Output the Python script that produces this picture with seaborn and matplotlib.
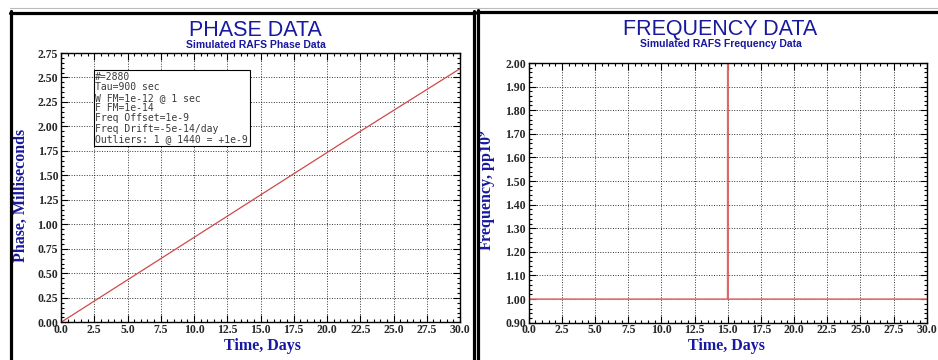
import numpy as np
import pandas as pd
import seaborn as sns
import matplotlib.pyplot as plt
from matplotlib.lines import Line2D
from matplotlib.ticker import MultipleLocator, FormatStrFormatter

# values
phase_days = [0.0, 7.5, 15.0, 22.5, 30.0]
phase_ms = [0.0, 0.65, 1.30, 1.95, 2.59]

freq_days = [0.0, 14.99, 15.0, 15.01, 30.0]
freq_pp1e9 = [1.0, 1.0, 2.3, 1.0, 1.0]

x_ticks = [0, 2.5, 5, 7.5, 10, 12.5, 15, 17.5, 20, 22.5, 25, 27.5, 30]

info_lines = [
    "#=2880",
    "Tau=900 sec",
    "W FM=1e-12 @ 1 sec",
    "F FM=1e-14",
    "Freq Offset=1e-9",
    "Freq Drift=-5e-14/day",
    "Outliers: 1 @ 1440 = +1e-9",
]

sns.set_style("ticks")
plt.rcParams["mathtext.fontset"] = "stix"

W, H = 938, 360
fig = plt.figure(figsize=(W / 100, H / 100), dpi=100)
fig.patch.set_facecolor("white")


def fx(x):
    return x / W


def fy(y):
    return 1 - y / H


ax1 = fig.add_axes([fx(61), fy(322.3), (460 - 61) / W, (322.3 - 53) / H])
ax2 = fig.add_axes([fx(528.7), fy(322.7), (926.7 - 528.7) / W, (322.7 - 63) / H])

navy = "#1818a0"
tick_font = dict(family="Liberation Serif", weight="bold", size=8.5)
label_font = dict(family="Liberation Serif", weight="bold", size=11.5, color=navy)

df_phase = pd.DataFrame({"days": phase_days, "phase": phase_ms})
df_freq = pd.DataFrame({"days": freq_days, "freq": freq_pp1e9})

sns.lineplot(data=df_phase, x="days", y="phase", ax=ax1, color="#d04848",
             linewidth=0.9, estimator=None, sort=False)
sns.lineplot(data=df_freq, x="days", y="freq", ax=ax2, color="#e06565",
             linewidth=1.1, estimator=None, sort=False)

ax1.set_ylim(0, 2.75)
ax2.set_ylim(0.9, 2.0)
ax1.yaxis.set_major_locator(MultipleLocator(0.25))
ax1.yaxis.set_minor_locator(MultipleLocator(0.05))
ax2.yaxis.set_major_locator(MultipleLocator(0.1))
ax2.yaxis.set_minor_locator(MultipleLocator(0.02))

for ax in (ax1, ax2):
    ax.set_xlim(0, 30)
    ax.set_xticks(x_ticks)
    ax.xaxis.set_minor_locator(MultipleLocator(0.5))
    ax.xaxis.set_major_formatter(FormatStrFormatter("%.1f"))
    ax.yaxis.set_major_formatter(FormatStrFormatter("%.2f"))
    ax.tick_params(which="both", direction="in", top=True, right=True,
                   color="black", width=0.8, pad=2)
    ax.tick_params(axis="x", which="major", pad=1)
    ax.tick_params(which="major", length=5)
    ax.tick_params(which="minor", length=2.5)
    for lab in ax.get_xticklabels() + ax.get_yticklabels():
        lab.set_fontfamily(tick_font["family"])
        lab.set_fontweight(tick_font["weight"])
        lab.set_fontsize(tick_font["size"])
    ax.grid(True, which="major", color="black", linestyle=(0, (1, 1.6)),
            linewidth=0.7, alpha=0.8)
    for sp in ax.spines.values():
        sp.set_color("black")
        sp.set_linewidth(1.0)
    ax.set_xlabel("Time, Days", **label_font)

ax1.set_ylabel("Phase, Milliseconds", **label_font)
ax2.set_ylabel(r"Frequency, pp10$^{\mathbf{9}}$", **label_font)
ax1.xaxis.set_label_coords(0.505, -0.058, transform=ax1.transAxes)
ax1.xaxis.label.set_verticalalignment("top")
ax2.xaxis.set_label_coords(0.497, -0.058, transform=ax2.transAxes)
ax2.xaxis.label.set_verticalalignment("top")
ax1.yaxis.set_label_coords(fx(29), fy(195), transform=fig.transFigure)
ax2.yaxis.set_label_coords(fx(498), fy(190), transform=fig.transFigure)

# info box
ax1.text(0.086, 0.93, "\n".join(info_lines), transform=ax1.transAxes,
         ha="left", va="top", fontsize=7.0, color="#3a3a3a",
         family="DejaVu Sans Mono", linespacing=1.05,
         bbox=dict(boxstyle="square,pad=0.15", fc="white", ec="black", lw=0.8))

# titles
fig.text(fx(255), fy(30), "PHASE DATA", ha="center", va="center",
         family="Liberation Sans", fontsize=15.5, color=navy)
fig.text(fx(256), fy(45), "Simulated RAFS Phase Data", ha="center", va="center",
         family="Liberation Sans", weight="bold", fontsize=7.5, color=navy)
fig.text(fx(720), fy(29), "FREQUENCY DATA", ha="center", va="center",
         family="Liberation Sans", fontsize=15.5, color=navy)
fig.text(fx(721), fy(44), "Simulated RAFS Frequency Data", ha="center", va="center",
         family="Liberation Sans", weight="bold", fontsize=7.5, color=navy)

# panel frames
frame = dict(color="black", linewidth=2.3, transform=fig.transFigure)
fig.add_artist(Line2D([fx(11), fx(11)], [fy(11), fy(362)], **frame))
fig.add_artist(Line2D([fx(10), fx(474.5)], [fy(12.5), fy(12.5)], **frame))
fig.add_artist(Line2D([fx(474), fx(474)], [fy(11), fy(362)], **frame))
fig.add_artist(Line2D([fx(478), fx(478)], [fy(10), fy(362)], **frame))
fig.add_artist(Line2D([fx(477), fx(940)], [fy(11.5), fy(11.5)], **frame))
fig.add_artist(Line2D([fx(10), fx(940)], [fy(7.5), fy(7.5)], color="#bbbbbb",
                      linewidth=0.8, transform=fig.transFigure))

fig.savefig("out.png", dpi=100, facecolor="white")
